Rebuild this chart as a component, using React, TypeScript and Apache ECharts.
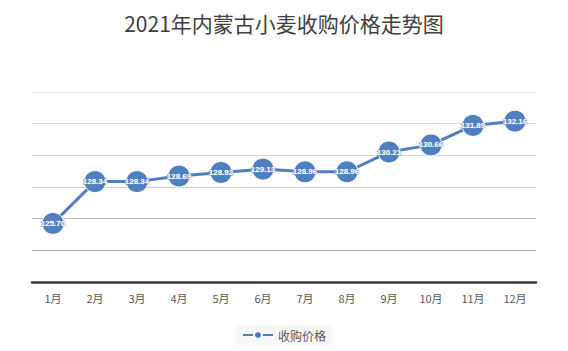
import React, { useEffect, useRef } from "react";
import * as echarts from "echarts";

const months = ["1月", "2月", "3月", "4月", "5月", "6月", "7月", "8月", "9月", "10月", "11月", "12月"];
const prices = [125.7, 128.34, 128.34, 128.69, 128.92, 129.13, 128.96, 128.96, 130.21, 130.66, 131.89, 132.16];
const seriesName = "收购价格";
const titleText = "2021年内蒙古小麦收购价格走势图";

export default function App() {
  const ref = useRef<HTMLDivElement>(null);
  useEffect(() => {
    if (!ref.current) return;
    const chart = echarts.init(ref.current, undefined, { renderer: "svg" });
    chart.setOption({
      animation: false,
      backgroundColor: "#ffffff",
      title: {
        text: titleText,
        left: "center",
        top: 7,
        textStyle: { fontSize: 21, fontWeight: "normal", color: "#404040", fontFamily: "Noto Sans CJK SC" },
      },
      legend: {
        top: 325,
        left: "center",
        backgroundColor: "#f7f7f7",
        padding: [4, 6],
        itemWidth: 30,
        itemHeight: 10,
        itemGap: 4,
        textStyle: { fontSize: 12, color: "#595959", fontFamily: "Noto Sans CJK SC" },
        data: [seriesName],
      },
      grid: { left: 32, right: 32, top: 92, bottom: 69 },
      xAxis: {
        type: "category",
        data: months,
        boundaryGap: true,
        axisLine: { lineStyle: { color: "#3a3a3a", width: 2.5 } },
        axisTick: { show: false },
        axisLabel: { fontSize: 11, color: "#595959", margin: 10, fontFamily: "Noto Sans CJK SC" },
      },
      yAxis: {
        type: "value",
        min: 122,
        max: 134,
        interval: 2,
        axisLabel: { show: false },
        axisLine: { show: false },
        axisTick: { show: false },
        splitLine: {
          lineStyle: {
            color: ["#3a3a3a", "#a8a8a8", "#bdbdbd", "#cccccc", "#d6d6d6", "#dedede", "#e6e6e6"],
            width: 1,
          },
        },
      },
      series: [
        {
          name: seriesName,
          type: "line",
          data: prices,
          symbol: "circle",
          symbolSize: 22,
          lineStyle: { color: "#4f7fbe", width: 3 },
          itemStyle: { color: "#4f7fbe", borderColor: "#ffffff", borderWidth: 1 },
          label: {
            show: true,
            position: "inside",
            overflow: "none",
            formatter: (p: any) => Number(p.value).toFixed(2),
            color: "#ffffff",
            fontSize: 8,
            fontWeight: "bold",
            fontFamily: "Liberation Sans",
            textBorderColor: "#6f93c6",
            textBorderWidth: 0.8,
          },
        },
      ],
    });
    return () => chart.dispose();
  }, []);
  return (
    <div
      ref={ref}
      style={{ position: "absolute", left: 0, top: 0, width: 568, height: 351 }}
    />
  );
}
